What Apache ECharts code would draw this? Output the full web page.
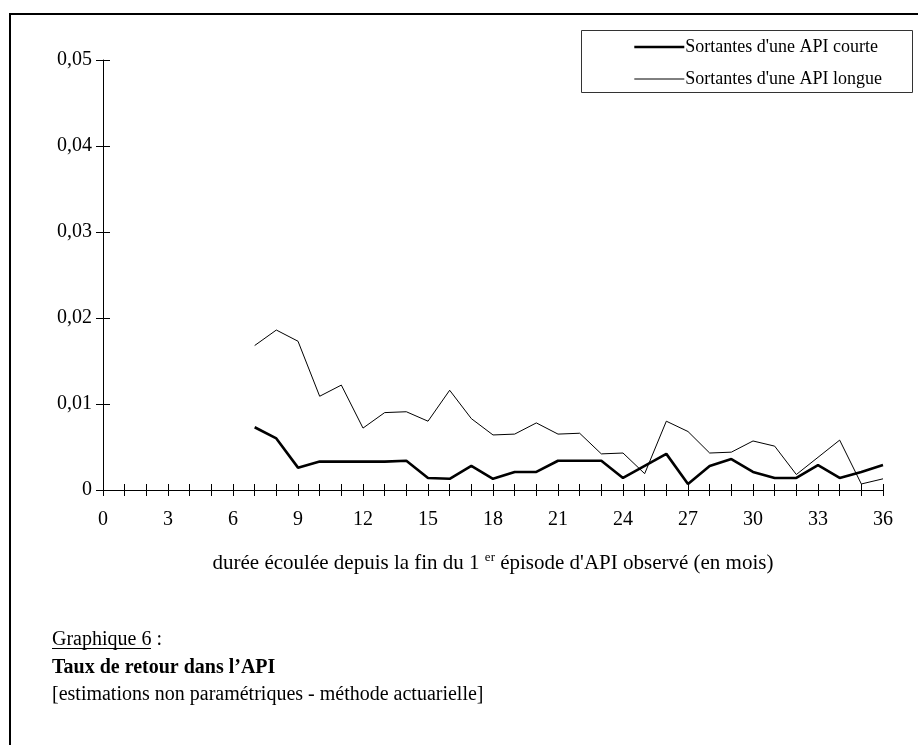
<!DOCTYPE html>
<html>
<head>
<meta charset="utf-8">
<script src="https://cdn.jsdelivr.net/npm/echarts@6/dist/echarts.min.js"></script>
<style>
html,body{margin:0;padding:0;background:#fff;}
#chart{width:918px;height:745px;}
</style>
</head>
<body>
<div id="chart"></div>
<script>
// ---- data ----
const months = [7,8,9,10,11,12,13,14,15,16,17,18,19,20,21,22,23,24,25,26,27,28,29,30,31,32,33,34,35,36];
const courte = [0.0073,0.0060,0.0026,0.0033,0.0033,0.0033,0.0033,0.0034,0.0014,0.0013,0.0028,0.0013,0.0021,0.0021,0.0034,0.0034,0.0034,0.0014,0.0028,0.0042,0.0007,0.0028,0.0036,0.0021,0.0014,0.0014,0.0029,0.0014,0.0021,0.0029];
const longue = [0.0168,0.0186,0.0173,0.0109,0.0122,0.0072,0.0090,0.0091,0.0080,0.0116,0.0083,0.0064,0.0065,0.0078,0.0065,0.0066,0.0042,0.0043,0.0019,0.0080,0.0068,0.0043,0.0044,0.0057,0.0051,0.0018,0.0038,0.0058,0.0007,0.0013];
const seriesNames = ["Sortantes d'une API courte", "Sortantes d'une API longue"];
const xTickLabels = ['0','3','6','9','12','15','18','21','24','27','30','33','36'];
const yTickLabels = ['0','0,01','0,02','0,03','0,04','0,05'];
const xTitle = "durée écoulée depuis la fin du 1 {sup|er} épisode d'API observé (en mois)";
const captionNum = "Graphique 6";
const captionTitle = "Taux de retour dans l\u2019API";
const captionSub = "[estimations non paramétriques - méthode actuarielle]";

const FONT = '"Liberation Serif", "Times New Roman", serif';
const chart = echarts.init(document.getElementById('chart'), null, {renderer:'canvas'});

const pairs = arr => months.map((m,i)=>[m, arr[i]]);

const xLabelFmt = v => (v % 3 === 0) ? xTickLabels[v/3] : '';
const yLabelFmt = v => yTickLabels[Math.round(v/0.01)] || '';

const THICK = 2.6, THIN = 1;

const option = {
  backgroundColor:'#fff',
  animation:false,
  grid: {left:103, right:35, top:60, bottom:255},
  legend: {
    orient:'vertical',
    left:633, top:38,
    itemWidth:50, itemHeight:16, itemGap:14,
    padding:0,
    itemStyle:{opacity:0},
    textStyle:{fontFamily:FONT, fontSize:18, color:'#000', padding:[0,0,0,-4]},
    data: [
      {name: seriesNames[0], lineStyle:{color:'#000', width:THICK}},
      {name: seriesNames[1], lineStyle:{color:'#000', width:THIN}}
    ]
  },
  xAxis: [{
    type:'value', min:0, max:36, interval:1,
    axisLine:{show:true, lineStyle:{color:'#000', width:1}},
    axisTick:{show:true, inside:false, length:6, lineStyle:{color:'#000'}},
    axisLabel:{formatter:xLabelFmt, fontFamily:FONT, fontSize:20, color:'#000', margin:20, showMinLabel:true, showMaxLabel:true},
    splitLine:{show:false},
    name: xTitle,
    nameLocation:'middle',
    nameGap:61,
    nameTextStyle:{fontFamily:FONT, fontSize:21, color:'#000', lineHeight:24,
      rich:{sup:{fontFamily:FONT, fontSize:13, color:'#000', verticalAlign:'top', lineHeight:13}}}
  },{
    type:'value', min:0, max:36, interval:1, position:'bottom',
    axisLine:{show:false},
    axisTick:{show:true, inside:true, length:6, lineStyle:{color:'#000'}},
    axisLabel:{show:false}, splitLine:{show:false}
  }],
  yAxis: [{
    type:'value', min:0, max:0.05, interval:0.01,
    axisLine:{show:true, lineStyle:{color:'#000', width:1}},
    axisTick:{show:true, inside:false, length:7, lineStyle:{color:'#000'}},
    axisLabel:{formatter:yLabelFmt, fontFamily:FONT, fontSize:20, color:'#000', margin:11},
    splitLine:{show:false}
  },{
    type:'value', min:0, max:0.05, interval:0.01, position:'left',
    axisLine:{show:false},
    axisTick:{show:true, inside:true, length:7, lineStyle:{color:'#000'}},
    axisLabel:{show:false}, splitLine:{show:false}
  }],
  series: [{
    name: seriesNames[0], type:'line', xAxisIndex:0, yAxisIndex:0,
    data: pairs(courte), symbol:'none', showSymbol:false,
    lineStyle:{color:'#000', width:THICK}, itemStyle:{color:'#000'}, z:3
  },{
    name: seriesNames[1], type:'line', xAxisIndex:0, yAxisIndex:0,
    data: pairs(longue), symbol:'none', showSymbol:false,
    lineStyle:{color:'#000', width:THIN}, itemStyle:{color:'#000'}, z:2
  }],
  graphic: [
    {type:'polyline', shape:{points:[[10,745],[10,14],[918,14]]}, style:{stroke:'#000', lineWidth:2, fill:null}, silent:true},
    {type:'rect', shape:{x:581.5, y:30.5, width:331, height:62}, style:{stroke:'#333', lineWidth:1, fill:null}, silent:true},
    {type:'text', left:52, top:630, style:{text:captionNum + ' :', font:'20px ' + FONT, fill:'#000'}},
    {type:'line', shape:{x1:52, y1:648.5, x2:151, y2:648.5}, style:{stroke:'#000', lineWidth:1}},
    {type:'text', left:52, top:658, style:{text:captionTitle, font:'bold 20px ' + FONT, fill:'#000'}},
    {type:'text', left:52, top:685, style:{text:captionSub, font:'20px ' + FONT, fill:'#000'}}
  ]
};
chart.setOption(option);
</script>
</body>
</html>
